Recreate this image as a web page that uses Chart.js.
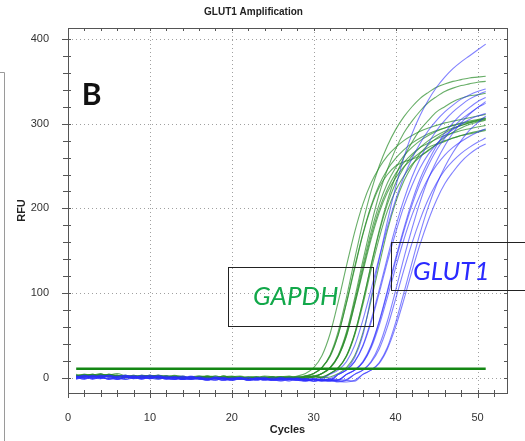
<!DOCTYPE html>
<html>
<head>
<meta charset="utf-8">
<title>GLUT1 Amplification</title>
<script src="https://cdn.jsdelivr.net/npm/chart.js@4.4.1/dist/chart.umd.min.js"></script>
<style>
    html, body { margin: 0; padding: 0; background: #fff; }
    #wrap { width: 525px; height: 441px; position: relative; }
</style>
</head>
<body>
<div id="wrap"><canvas id="amp-chart"></canvas></div>
<script>
// 循环数 (x 轴)
const cycles = [1,2,3,4,5,6,7,8,9,10,11,12,13,14,15,16,17,18,19,20,21,22,23,24,25,26,27,28,29,30,31,32,33,34,35,36,37,38,39,40,41,42,43,44,45,46,47,48,49,50,51];
const xTicks = [0, 10, 20, 30, 40, 50];
const yTicks = [0, 100, 200, 300, 400];
const thresholdRFU = 10.5;
const thresholdRange = [1, 51];

// GAPDH 扩增曲线 (绿色)
const gapdhCurves = [
    [3,2,4,1,3,5,2,1,3,2,0,2,1,-1,0,1,-1,0,2,0,-1,1,0,-2,0,1,-1,0,2,5,12,27,55,95,140,183,220,250,274,293,308,320,330,337,343,347,350,352,354,355,356],
    [2,4,3,1,2,3,0,2,1,3,1,0,2,0,1,-1,1,0,-1,1,2,0,-1,0,1,-2,0,1,-1,2,5,12,27,54,94,138,180,217,246,270,289,303,315,325,332,338,342,345,347,349,350],
    [1,3,2,4,2,0,1,3,2,1,-1,1,2,0,-1,1,0,2,-1,0,1,-1,0,2,1,-1,0,2,5,12,26,52,90,132,172,205,230,248,262,272,280,286,291,295,298,301,303,305,307,309,311],
    [4,2,3,5,1,2,3,1,0,2,3,1,0,-1,1,2,0,-1,1,0,-2,0,1,-1,0,1,2,0,1,5,12,26,51,89,131,170,203,228,246,259,269,277,283,288,292,295,298,300,302,304,306],
    [2,1,3,2,4,1,2,0,3,1,2,0,1,-1,0,2,1,-1,0,1,-1,-2,0,1,0,-1,1,0,2,5,12,25,51,88,129,169,201,225,240,250,255,258,262,268,276,284,290,295,299,302,304],
    [3,1,2,4,3,2,0,1,2,3,1,2,0,1,-1,0,2,1,-1,0,-1,1,0,-2,-1,0,1,-1,0,1,5,12,26,52,90,132,172,205,230,248,262,272,280,286,291,295,298,301,303,305,307],
    [1,3,4,2,1,3,2,0,1,2,0,1,3,1,0,-1,1,0,2,0,-1,0,1,-1,-2,0,1,0,-1,1,5,12,25,50,87,128,167,199,223,241,254,264,272,277,282,286,289,292,294,296,298],
    [2,3,1,2,4,2,1,3,0,2,1,0,2,1,-1,1,0,-1,1,2,0,-1,0,1,-2,0,-1,1,0,2,1,5,12,26,52,90,132,172,205,230,248,262,272,280,286,291,295,298,301,303,305],
    [3,2,4,1,3,2,0,2,1,3,1,2,0,-1,1,0,2,-1,0,1,-1,0,-2,0,1,-1,0,1,2,0,1,5,12,25,50,86,127,165,197,221,238,252,261,269,275,279,283,286,289,291,293],
    [1,2,3,2,4,3,1,0,2,1,3,0,1,2,-1,0,1,-1,2,0,1,-1,0,-2,1,0,-1,0,1,2,0,1,5,12,26,53,91,133,174,207,232,250,265,275,283,289,294,298,301,304,306],
    [2,4,1,3,2,1,3,0,2,1,0,2,1,0,-1,1,2,0,-1,1,0,-1,1,-2,0,1,0,-1,2,1,5,11,25,49,86,125,163,195,219,236,249,258,266,272,276,280,283,286,288,290,292],
    [3,1,2,4,2,3,1,2,0,1,3,2,0,1,-1,0,1,2,0,-1,1,0,-1,-2,0,1,0,-1,1,2,0,5,11,26,52,90,133,174,209,238,260,278,293,304,314,320,326,330,333,334,336]
];

// GLUT1 扩增曲线 (蓝色)
const glut1Curves = [
    [0,3,-2,1,2,-1,0,2,1,-1,3,0,-2,1,0,-1,-3,0,-1,-2,0,-3,-1,0,-2,-1,-3,0,-2,-1,-3,-1,4,10,24,50,95,140,185,225,260,288,310,328,343,355,365,373,380,387,394],
    [2,-1,1,3,0,-2,1,2,-1,0,1,-2,0,2,-1,-2,0,-1,-3,-1,0,-2,-1,-3,0,-1,-2,-1,-3,-2,-1,4,9,19,38,68,104,142,178,210,237,259,277,292,304,314,322,329,334,338,341],
    [-1,2,0,1,-2,1,3,0,-1,2,0,-1,1,-2,0,-1,-2,1,-1,-3,0,-2,-1,-2,-3,0,-1,-2,-3,-1,-2,-3,4,9,19,38,68,104,142,178,210,237,259,277,292,304,314,322,329,334,338],
    [1,-2,2,0,-1,1,2,-1,0,3,1,-1,0,-2,1,-1,-2,0,-1,-3,-1,0,-2,-1,-3,-2,0,-1,-3,-2,-4,-2,-3,4,9,19,38,67,103,141,176,208,235,256,274,289,301,311,319,326,331],
    [0,2,-1,1,3,0,-2,1,0,2,-1,0,1,-2,-1,0,-3,-1,0,-2,-1,-3,0,-2,-1,-3,-2,-1,-3,-4,-2,-3,-4,-2,4,9,19,38,67,103,141,176,208,235,256,274,289,301,311,319,326],
    [2,0,-1,3,1,-2,0,2,1,-1,0,2,-1,0,-2,1,-1,-3,0,-1,-2,0,-3,-1,-2,0,-2,-3,-1,-2,-3,-1,-2,4,9,18,37,66,101,138,173,204,230,251,269,283,295,305,312,319,324],
    [-2,1,2,0,-1,2,1,-1,3,0,-2,1,0,-1,2,-1,-2,0,-1,-3,-1,-2,0,-1,-3,-2,-1,-3,-2,-4,-2,-3,4,9,19,37,65,100,137,171,202,227,248,264,276,286,293,299,305,309,312],
    [1,3,0,-1,2,-2,1,0,2,-1,1,0,-2,1,-1,0,-2,-1,-3,0,-1,-2,-1,-3,-2,0,-2,-3,-4,-2,-3,-4,-3,4,9,18,35,62,95,130,163,192,216,236,251,263,272,279,285,290,294],
    [0,-1,2,1,-2,0,3,1,-1,0,2,-1,-2,0,1,-1,-3,0,-2,-1,0,-3,-2,-1,-3,-2,-4,-1,-3,-2,-4,-3,-5,-3,4,9,18,34,60,93,127,159,187,211,230,245,256,265,272,278,283],
    [2,0,1,-1,3,1,-2,0,2,-1,1,0,-1,-2,1,0,-2,-1,-3,-1,0,-2,-3,-1,-2,-4,-2,-3,-1,-4,-3,-2,-4,-5,-3,4,9,17,34,60,92,126,158,186,210,229,243,255,264,271,276],
    [-1,1,3,0,2,-1,0,1,-2,2,0,-1,1,-1,-2,0,-1,-3,0,-2,-1,-3,-1,0,-2,-3,-1,-2,-4,-2,-3,-4,-2,-3,-4,4,9,18,36,65,100,136,171,202,228,249,266,280,292,301,309]
];

const FONT = "'Liberation Sans', Arial, sans-serif";

// 组装数据集
const datasets = [];
datasets.push({
    label: 'Threshold',
    data: [{ x: thresholdRange[0], y: thresholdRFU }, { x: thresholdRange[1], y: thresholdRFU }],
    borderColor: 'rgb(20, 135, 20)',
    borderWidth: 2.5,
    pointRadius: 0,
    order: 0
});
glut1Curves.forEach((values, i) => {
    datasets.push({
        label: 'GLUT1 ' + (i + 1),
        data: values,
        borderColor: 'rgba(45, 45, 255, 0.6)',
        borderWidth: 1.1,
        pointRadius: 0,
        cubicInterpolationMode: 'monotone',
        order: 1
    });
});
gapdhCurves.forEach((values, i) => {
    datasets.push({
        label: 'GAPDH ' + (i + 1),
        data: values,
        borderColor: 'rgba(40, 140, 40, 0.7)',
        borderWidth: 1.1,
        pointRadius: 0,
        cubicInterpolationMode: 'monotone',
        order: 2
    });
});

// 网格、边框、刻度和标注
const framePlugin = {
    id: 'framePlugin',
    beforeDatasetsDraw(chart) {
        const { ctx, chartArea: a, scales: { x, y } } = chart;
        ctx.save();
        ctx.strokeStyle = '#a0a0a0';
        ctx.lineWidth = 1;
        ctx.setLineDash([1, 3]);
        ctx.beginPath();
        xTicks.forEach(v => {
            if (v <= 0) return;
            const px = Math.round(x.getPixelForValue(v)) + 0.5;
            ctx.moveTo(px, a.top);
            ctx.lineTo(px, a.bottom);
        });
        yTicks.forEach(v => {
            const py = Math.round(y.getPixelForValue(v)) + 0.5;
            ctx.moveTo(a.left, py);
            ctx.lineTo(a.right, py);
        });
        ctx.stroke();
        ctx.restore();
    },
    afterDraw(chart) {
        const { ctx, chartArea: a, scales: { x, y } } = chart;
        ctx.save();

        // 外框
        ctx.strokeStyle = '#555';
        ctx.lineWidth = 1;
        ctx.strokeRect(Math.round(a.left) + 0.5, Math.round(a.top) + 0.5,
            Math.round(a.right - a.left), Math.round(a.bottom - a.top));

        // 小刻度
        ctx.beginPath();
        for (let v = 0; v <= 52; v += 2) {
            const px = Math.round(x.getPixelForValue(v)) + 0.5;
            const len = v % 10 === 0 ? 5 : 4;
            ctx.moveTo(px, a.bottom - 3);
            ctx.lineTo(px, a.bottom + len);
            ctx.moveTo(px, a.top);
            ctx.lineTo(px, a.top + 3);
        }
        for (let v = 0; v <= 400; v += 20) {
            const py = Math.round(y.getPixelForValue(v)) + 0.5;
            const len = v % 100 === 0 ? 6 : 5;
            ctx.moveTo(a.left - len, py);
            ctx.lineTo(a.left + 3, py);
            ctx.moveTo(a.right - 3, py);
            ctx.lineTo(a.right, py);
        }
        ctx.stroke();

        // 标注框
        ctx.strokeStyle = '#222';
        const box = (x0, x1, y0, y1) => {
            const l = Math.round(x.getPixelForValue(x0)) + 0.5;
            const r = Math.round(x.getPixelForValue(x1)) + 0.5;
            const t = Math.round(y.getPixelForValue(y1)) + 0.5;
            const b = Math.round(y.getPixelForValue(y0)) + 0.5;
            ctx.strokeRect(l, t, r - l, b - t);
        };
        box(19.5, 37.3, 61, 131);
        box(39.4, 62, 104, 160);

        ctx.textAlign = 'center';
        ctx.textBaseline = 'middle';
        ctx.font = "italic 26px Lato, 'Open Sans', sans-serif";
        ctx.fillStyle = '#12a84a';
        ctx.fillText('GAPDH', x.getPixelForValue(27.8), y.getPixelForValue(96));
        ctx.fillStyle = '#2a2aff';
        ctx.fillText('GLUT1', x.getPixelForValue(46.8), y.getPixelForValue(125));

        ctx.fillStyle = '#111';
        ctx.font = "bold 30px Lato, 'Open Sans', sans-serif";
        ctx.fillText('B', x.getPixelForValue(2.9), y.getPixelForValue(333));

        // 左侧残留的灰色边线
        ctx.strokeStyle = '#9a9a9a';
        ctx.beginPath();
        ctx.moveTo(0, 72.5);
        ctx.lineTo(4.5, 72.5);
        ctx.lineTo(4.5, 441);
        ctx.stroke();

        ctx.restore();
    }
};

function initAmplificationChart() {
    const canvas = document.getElementById('amp-chart');
    const ctx = canvas.getContext('2d');
    if (!ctx) return;
    new Chart(ctx, {
        type: 'line',
        data: {
            labels: cycles,
            datasets: datasets
        },
        options: {
            responsive: true,
            maintainAspectRatio: false,
            animation: false,
            devicePixelRatio: 1,
            layout: {
                padding: { top: 0, right: 18, bottom: 0, left: 0 }
            },
            scales: {
                x: {
                    type: 'linear',
                    min: 0,
                    max: 53.6,
                    afterBuildTicks: scale => { scale.ticks = xTicks.map(v => ({ value: v })); },
                    afterFit: scale => { scale.height = 48; },
                    grid: { display: false },
                    border: { display: false },
                    ticks: {
                        font: { family: FONT, size: 11 },
                        color: '#333',
                        padding: 10,
                        maxRotation: 0,
                        autoSkip: false
                    },
                    title: {
                        display: true,
                        text: 'Cycles',
                        color: '#222',
                        font: { family: FONT, size: 11, weight: 'bold' },
                        padding: { top: 4, bottom: 4 }
                    }
                },
                y: {
                    type: 'linear',
                    min: -18,
                    max: 413,
                    afterBuildTicks: scale => { scale.ticks = yTicks.map(v => ({ value: v })); },
                    afterFit: scale => { scale.width = 68; },
                    grid: { display: false },
                    border: { display: false },
                    ticks: {
                        font: { family: FONT, size: 11 },
                        color: '#333',
                        padding: 11
                    },
                    title: {
                        display: true,
                        text: 'RFU',
                        color: '#222',
                        font: { family: FONT, size: 11, weight: 'bold' },
                        padding: { top: 15, bottom: 15 }
                    }
                }
            },
            plugins: {
                legend: { display: false },
                tooltip: { enabled: false },
                title: {
                    display: true,
                    text: 'GLUT1 Amplification',
                    color: '#222',
                    font: { family: FONT, size: 10, weight: 'bold' },
                    padding: { top: 6, bottom: 10 }
                }
            }
        },
        plugins: [framePlugin]
    });
}

document.addEventListener('DOMContentLoaded', initAmplificationChart);
</script>
</body>
</html>
